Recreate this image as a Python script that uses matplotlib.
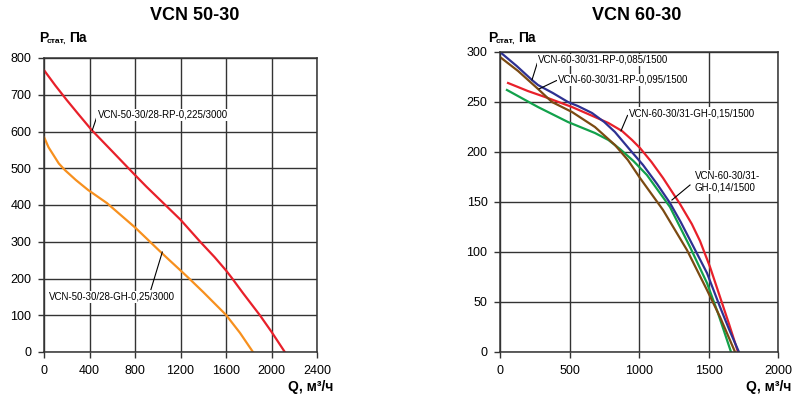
import matplotlib.pyplot as plt

plt.rcParams['font.family'] = ['Liberation Sans', 'DejaVu Sans']

# VCN 50-30 curves (Q m3/h, P Pa)
q_rp50 = [0, 100, 199, 300, 419, 600, 783, 900, 1050, 1200, 1373, 1500, 1600, 1650, 1750, 1898, 2000, 2117]
p_rp50 = [767, 725, 686, 648, 604, 546, 487, 450, 405, 360, 300, 258, 222, 202, 160, 100, 55, 0]
q_gh50 = [0, 40, 83, 130, 184, 280, 387, 554, 800, 925, 1026, 1102, 1200, 1276, 1400, 1500, 1600, 1723, 1837]
p_gh50 = [585, 557, 536, 513, 495, 468, 441, 405, 339, 302, 272, 250, 222, 200, 163, 132, 101, 52, 0]

# VCN 60-30 curves
q_rp085 = [0, 120, 230, 273, 380, 489, 560, 662, 750, 827, 930, 1029, 1130, 1223, 1300, 1367, 1489, 1583, 1650, 1719]
p_rp085 = [300, 286, 272, 267, 259, 250, 246, 239, 230, 220, 203, 187, 168, 149, 130, 112, 79, 45, 22, 0]
q_rp095 = [0, 130, 266, 374, 518, 683, 827, 920, 1007, 1173, 1345, 1489, 1583, 1691]
p_rp095 = [295, 281, 264, 250, 240, 225, 207, 192, 174, 142, 102, 62, 35, 0]
q_gh015 = [58, 200, 324, 518, 683, 780, 878, 950, 1007, 1090, 1173, 1295, 1380, 1439, 1511, 1583, 1650, 1712]
p_gh015 = [269, 261, 255, 245, 235, 229, 221, 212, 204, 190, 174, 148, 128, 111, 85, 55, 27, 0]
q_gh014 = [50, 273, 489, 683, 780, 863, 960, 1057, 1223, 1367, 1489, 1568, 1662]
p_gh014 = [262, 245, 230, 219, 212, 203, 191, 177, 145, 105, 69, 39, 0]

W, H = 800, 399
fig = plt.figure(figsize=(8, 3.99), dpi=100)

gridc = '#333333'


def setup(ax, xmax, xstep, ymax, ystep):
    ax.set_xlim(0, xmax)
    ax.set_ylim(0, ymax)
    ax.set_xticks(range(0, xmax + 1, xstep))
    ax.set_yticks(range(0, ymax + 1, ystep))
    ax.grid(True, color=gridc, lw=1)
    for s in ax.spines.values():
        s.set_color(gridc)
        s.set_linewidth(1.1)
    ax.tick_params(length=4, width=1, color=gridc, labelsize=9, pad=5)


def ylab(x, y):
    fig.text(x / W, 1 - y / H, 'P', fontsize=10, fontweight='bold', va='baseline')
    fig.text((x + 8) / W, 1 - (y + 1) / H, 'стат,', fontsize=6, fontweight='bold', va='baseline')
    fig.text((x + 30) / W, 1 - y / H, 'Па', fontsize=10, fontweight='bold', va='baseline')


def lead(ax, txt, xy, xyt):
    ax.annotate(txt, xy=xy, xytext=xyt, fontsize=7, ha='left', va='center',
                arrowprops=dict(arrowstyle='-', lw=0.8, color='black',
                                shrinkA=0, shrinkB=0, relpos=(0, 0.5)),
                bbox=dict(boxstyle='square,pad=0.1', fc='white', ec='none'))


# left chart
ax1 = fig.add_axes([44 / W, 1 - 352 / H, 273 / W, 294 / H])
setup(ax1, 2400, 400, 800, 100)
ax1.plot(q_rp50, p_rp50, color='#e8202a', lw=1.6)
ax1.plot(q_gh50, p_gh50, color='#f7901e', lw=1.6)
lead(ax1, 'VCN-50-30/28-RP-0,225/3000', (425, 604), (470, 645))
ax1.annotate('VCN-50-30/28-GH-0,25/3000', xy=(1040, 272), xytext=(40, 150),
             fontsize=7, ha='left', va='center',
             bbox=dict(boxstyle='square,pad=0.1', fc='white', ec='none'))
ax1.plot([940, 1040], [170, 272], color='black', lw=0.8)
fig.text(195 / W, 1 - 20 / H, 'VCN 50-30', fontsize=13, fontweight='bold',
         ha='center', va='baseline')
ylab(39, 42)
fig.text(333 / W, 1 - 391 / H, 'Q, м³/ч', fontsize=10, fontweight='bold',
         ha='right', va='baseline')

# right chart
ax2 = fig.add_axes([500 / W, 1 - 352 / H, 278 / W, 300 / H])
setup(ax2, 2000, 500, 300, 50)
ax2.plot(q_gh014, p_gh014, color='#12a14b', lw=1.6)
ax2.plot(q_gh015, p_gh015, color='#e8202a', lw=1.6)
ax2.plot(q_rp085, p_rp085, color='#2e3192', lw=1.6)
ax2.plot(q_rp095, p_rp095, color='#7b4a12', lw=1.6)
lead(ax2, 'VCN-60-30/31-RP-0,085/1500', (230, 272), (275, 292))
lead(ax2, 'VCN-60-30/31-RP-0,095/1500', (280, 263), (415, 272))
lead(ax2, 'VCN-60-30/31-GH-0,15/1500', (870, 221), (925, 239))
ax2.text(1400, 170, 'VCN-60-30/31-\nGH-0,14/1500', fontsize=7, ha='left',
         va='center', linespacing=1.2,
         bbox=dict(boxstyle='square,pad=0.1', fc='white', ec='none'))
ax2.plot([1367, 1237], [167, 152], color='black', lw=0.8)
fig.text(637 / W, 1 - 20 / H, 'VCN 60-30', fontsize=13, fontweight='bold',
         ha='center', va='baseline')
ylab(488, 42)
fig.text(791 / W, 1 - 391 / H, 'Q, м³/ч', fontsize=10, fontweight='bold',
         ha='right', va='baseline')

fig.savefig('out.png', dpi=100)
